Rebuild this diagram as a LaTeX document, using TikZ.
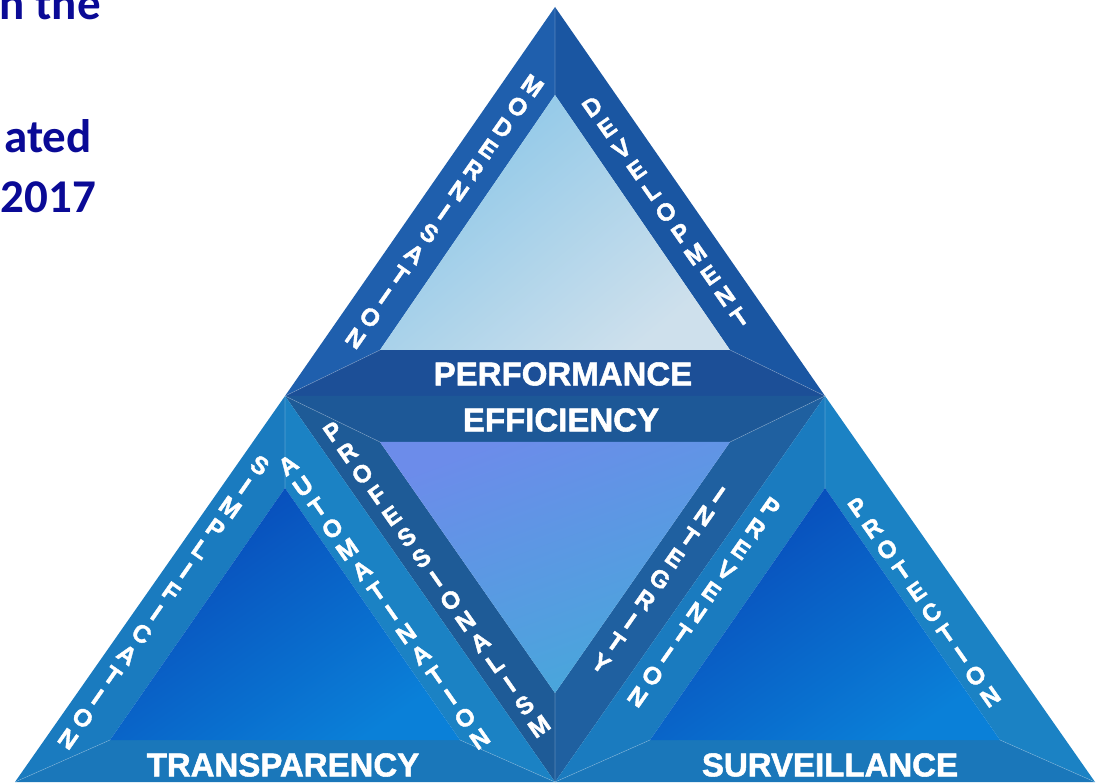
\documentclass[tikz,border=0pt]{standalone}
\usepackage{fontspec}
\setmainfont{Liberation Sans}
\newfontfamily\headfont{Carlito}
\newfontfamily\heavyfont{Liberation Sans Bold}[FakeBold=1.6]
\usetikzlibrary{calc}

\definecolor{slideblue}{HTML}{0A0A96}
\definecolor{perfleft}{HTML}{1F5FAD}
\definecolor{perfright}{HTML}{1A56A2}
\definecolor{perfbase}{HTML}{1C4F97}
\definecolor{perftop}{RGB}{138,198,232}
\definecolor{perfbottom}{RGB}{206,224,236}
\definecolor{effleft}{HTML}{1E5B97}
\definecolor{effright}{HTML}{1F60A0}
\definecolor{effbase}{HTML}{1D5897}
\definecolor{efftop}{RGB}{108,140,234}
\definecolor{effbottom}{RGB}{70,168,218}
\definecolor{lowleft}{HTML}{1A7BBF}
\definecolor{lowright}{HTML}{1B82C4}
\definecolor{lowbase}{HTML}{1A77BA}
\definecolor{lowtop}{RGB}{8,72,184}
\definecolor{lowbottom}{RGB}{10,128,216}

\tikzstyle{bandlabel} = [text=white, font=\heavyfont\fontsize{33}{33}\selectfont, inner sep=0pt]
\tikzstyle{edgelabel} = [text=white, font=\heavyfont\fontsize{24.5}{25.7}\selectfont, align=center, inner sep=0pt]
\tikzstyle{seam} = [white, opacity=0.25, line width=0.6pt]
\tikzstyle{headline} = [text=slideblue, font=\headfont\fontsize{47}{57}\selectfont\bfseries, inner sep=0pt]

\begin{document}
\begin{tikzpicture}[x=1pt,y=1pt]
\useasboundingbox (0,0) rectangle (1103,782);
\clip (0,0) rectangle (1103,782);

% outer corners
\coordinate (apex) at (555,775);
\coordinate (midL) at (285,386);
\coordinate (midR) at (825,386);
\coordinate (botL) at (15,0);
\coordinate (botM) at (555,0);
\coordinate (botR) at (1095,0);

% inner corners
\coordinate (tA) at (555,687);
\coordinate (tL) at (380,432);
\coordinate (tR) at (730,432);
\coordinate (mL) at (380,340);
\coordinate (mR) at (730,340);
\coordinate (mB) at (555,89);
\coordinate (lA) at (285,294);
\coordinate (lL) at (110,42);
\coordinate (lR) at (460,42);
\coordinate (rA) at (825,294);
\coordinate (rL) at (650,42);
\coordinate (rR) at (1000,42);

% top triangle
\fill[perfleft] (apex) -- (midL) -- (tL) -- (tA) -- cycle;
\fill[perfright] (apex) -- (midR) -- (tR) -- (tA) -- cycle;
\fill[perfbase] (midL) -- (midR) -- (tR) -- (tL) -- cycle;
\shade[top color=perftop, bottom color=perfbottom, shading angle=40]
  (tA) -- (tL) -- (tR) -- cycle;

% middle triangle
\fill[effbase] (midL) -- (midR) -- (mR) -- (mL) -- cycle;
\fill[effleft] (midL) -- (botM) -- (mB) -- (mL) -- cycle;
\fill[effright] (midR) -- (botM) -- (mB) -- (mR) -- cycle;
\shade[top color=efftop, bottom color=effbottom, shading angle=20]
  (mL) -- (mR) -- (mB) -- cycle;

% lower triangles
\foreach \o/\l/\r/\a/\b/\c in {midL/botL/botM/lA/lL/lR, midR/botM/botR/rA/rL/rR} {
  \fill[lowleft] (\o) -- (\l) -- (\b) -- (\a) -- cycle;
  \fill[lowright] (\o) -- (\r) -- (\c) -- (\a) -- cycle;
  \fill[lowbase] (\l) -- (\r) -- (\c) -- (\b) -- cycle;
  \shade[top color=lowtop, bottom color=lowbottom, shading angle=35]
    (\a) -- (\b) -- (\c) -- cycle;
  \draw[seam] (\o) -- (\a) (\l) -- (\b) (\r) -- (\c);
}

% seams
\draw[seam] (apex) -- (tA) (midL) -- (tL) (midR) -- (tR);
\draw[seam] (midL) -- (mL) (midR) -- (mR) (botM) -- (mB);

% band labels
\node[bandlabel] (performance) at (563,408) {PERFORMANCE};
\node[bandlabel] (efficiency) at (561,362) {EFFICIENCY};
\node[bandlabel] (transparency) at (283,17) {TRANSPARENCY};
\node[bandlabel] (surveillance) at (830,17) {SURVEILLANCE};

% edge labels
\node[edgelabel, rotate=-35] (modern) at (444,570) {M\\O\\D\\E\\R\\N\\I\\S\\A\\T\\I\\O\\N};
\node[edgelabel, rotate=35] (develop) at (666,570) {D\\E\\V\\E\\L\\O\\P\\M\\E\\N\\T};
\node[edgelabel, rotate=35] (profess) at (436,203) {P\\R\\O\\F\\E\\S\\S\\I\\O\\N\\A\\L\\I\\S\\M};
\node[edgelabel, rotate=-35] (integrity) at (660,203) {I\\N\\T\\E\\G\\R\\I\\T\\Y};
\node[edgelabel, rotate=-35] (simplify) at (164,180) {S\\I\\M\\P\\L\\I\\F\\I\\C\\A\\T\\I\\O\\N};
\node[edgelabel, rotate=35] (automate) at (384,180) {A\\U\\T\\O\\M\\A\\T\\I\\N\\A\\T\\I\\O\\N};
\node[edgelabel, rotate=-35] (prevent) at (704,180) {P\\R\\E\\V\\E\\N\\T\\I\\O\\N};
\node[edgelabel, rotate=35] (protect) at (924,180) {P\\R\\O\\T\\E\\C\\T\\I\\O\\N};

% slide text behind the figure
\node[headline, anchor=base east] (line1) at (101,762) {n the};
\node[headline, anchor=base east] (line2) at (92,629) {ated};
\node[headline, anchor=base east] (line3) at (96,569) {2017};
\end{tikzpicture}
\end{document}
